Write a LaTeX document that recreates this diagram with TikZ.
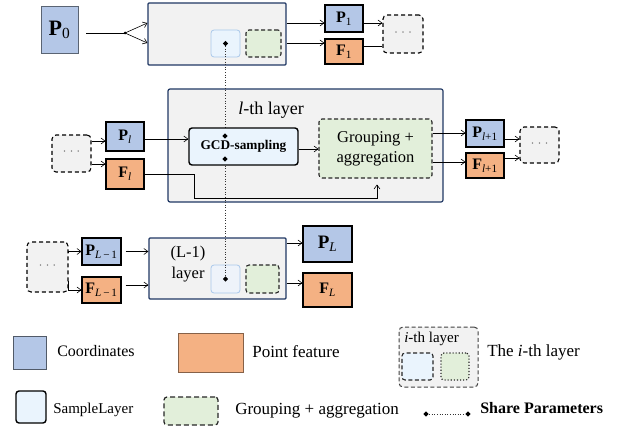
\documentclass[tikz,border=0pt]{standalone}
\usepackage{fontspec}
\setmainfont{Liberation Serif}
\usepackage{tikz}
\usetikzlibrary{arrows.meta,calc,shapes.geometric}

\definecolor{coordblue}{HTML}{B4C7E7}
\definecolor{featorange}{HTML}{F4B183}
\definecolor{layergray}{HTML}{F2F2F2}
\definecolor{layernavy}{HTML}{203864}
\definecolor{samplefill}{HTML}{EAF4FD}
\definecolor{innerfill}{HTML}{EEF3FA}
\definecolor{innerblue}{HTML}{A9C8EA}
\definecolor{groupgreen}{HTML}{E2EFDA}
\newcommand{\vsub}[2]{\textbf{#1}\textsubscript{#2}}

\begin{document}
\begin{tikzpicture}[x=1pt, y=-1pt, >={Straight Barb[length=4pt,width=6pt]}, line width=0.6pt,
  every node/.style={font=\fontsize{16}{19}\selectfont, inner sep=0pt},
  coordbox/.style={draw=black, line width=1.1pt, fill=coordblue, minimum width=38pt, minimum height=27pt},
  featbox/.style={draw=black, line width=1.1pt, fill=featorange, minimum width=38pt, minimum height=27pt},
  layerbox/.style={draw=layernavy, line width=1.2pt, fill=layergray, rounded corners=1pt},
  samplebox/.style={draw=black, line width=1.4pt, fill=samplefill, rounded corners=3pt},
  groupbox/.style={draw=black!85, dash pattern=on 4pt off 2.5pt, line width=1.1pt, fill=groupgreen, rounded corners=3pt},
  morebox/.style={draw=black, dash pattern=on 4pt off 3pt, line width=1.1pt, fill=layergray, rounded corners=4pt,
    minimum width=40pt, minimum height=38pt, font=\fontsize{12}{14}\selectfont, text=black!60},
  sharedot/.style={diamond, fill=black, inner sep=1.4pt},
]
\useasboundingbox (0,0) rectangle (628,433);

% first layer
\node[coordbox, draw=coordblue!50!black, line width=0.8pt, minimum width=37pt, minimum height=47pt,
  font=\fontsize{22}{24}\selectfont] (p0) at (59.5,29.5) {\vsub{P}{0}};
\node[layerbox, minimum width=138pt, minimum height=62pt] (layer1) at (217,34) {};
\node[samplebox, draw=innerblue, line width=0.8pt, minimum width=29pt, minimum height=27pt] (s1) at (225.5,43.5) {};
\node[groupbox, minimum width=35pt, minimum height=27pt] (g1) at (263.5,43.5) {};
\node[coordbox] (p1) at (344,18.5) {\vsub{P}{1}};
\node[featbox, minimum height=25pt] (f1) at (344,51.5) {\vsub{F}{1}};
\node[morebox] (more1) at (403,34) {· · ·};
\coordinate (split) at (125,33);

\draw[shorten <=8pt] (p0.east |- split) -- (split);
\fill (split) circle (1.5pt);
\draw[->] (split) -- ($(layer1.west)+(0,-11)$);
\draw[->] (split) -- ($(layer1.west)+(0,9)$);
\draw[->] ($(layer1.east)+(0,-11)$) coordinate (a) -- (a -| p1.west);
\draw[->] ($(layer1.east)+(0,9)$) coordinate (a) -- (a -| f1.west);
\draw[->] ($(p1.east)+(0,4.5)$) coordinate (a) -- (a -| more1.west);
\draw ($(f1.east)+(0,-5.5)$) coordinate (a) -- (a -| more1.west);

% last layer
\node[morebox, minimum width=41pt, minimum height=50pt] (more4) at (47.5,267) {· · ·};
\node[coordbox, minimum width=39pt] (pL1) at (101.5,251.5) {\vsub{P}{\textit{L}\,−\,1}};
\node[featbox, minimum width=39pt, minimum height=26pt] (fL1) at (101.5,290) {\vsub{F}{\textit{L}\,−\,1}};
\node[layerbox, minimum width=137pt, minimum height=61pt] (layerL) at (217.5,268.5) {};
\node[align=center, font=\fontsize{16.5}{21}\selectfont] (titleL) at (188,264) {(L-1)\\layer};
\node[samplebox, draw=innerblue, fill=innerfill, line width=0.8pt, minimum width=29pt, minimum height=28pt] (sL) at (225.5,279) {};
\node[groupbox, minimum width=33pt, minimum height=28pt] (gL) at (262.5,279) {};
\node[coordbox, minimum width=49pt, minimum height=36pt, font=\fontsize{19}{21}\selectfont] (pL) at (327.5,244) {\vsub{P}{\textit{L}}};
\node[featbox, minimum width=49pt, minimum height=34pt] (fL) at (327.5,290) {\vsub{F}{\textit{L}}};

\draw[->] ($(more4.east)+(0,-14)$) |- (pL1.west);
\draw[->] ($(more4.east)+(0,14)$) |- (fL1.west);
\draw[->, shorten <=4pt] (pL1.east) -- (pL1.east -| layerL.west);
\draw[->, shorten <=4pt] ($(fL1.east)+(0,-5)$) coordinate (a) -- (a -| layerL.west);
\draw[->] ($(layerL.east)+(0,-25.5)$) coordinate (a) -- (a -| pL.west);
\draw[->] ($(layerL.east)+(0,14.5)$) coordinate (a) -- (a -| fL.west);

% l-th layer
\node[morebox, minimum width=39pt, minimum height=37pt] (more2) at (71.5,153.5) {· · ·};
\node[coordbox, minimum height=29pt] (pl) at (125,136.5) {\vsub{P}{\textit{l}}};
\node[featbox, minimum height=30pt] (fl) at (125,174) {\vsub{F}{\textit{l}}};
\node[layerbox, rounded corners=2pt, minimum width=275pt, minimum height=113pt] (layerl) at (305.5,145.5) {};
\node[font=\fontsize{18}{20}\selectfont] (titlel) at (271,110) {\textit{l}-th layer};

% shared weights run through all layers
\draw[dotted, draw=black!80] (s1.center) -- (sL.center);

\node[samplebox, minimum width=109pt, minimum height=37pt, font=\fontsize{13.3}{15}\bfseries] (gcd) at (243.5,146.5) {GCD-sampling};
\node[groupbox, minimum width=113pt, minimum height=59pt, align=center, font=\fontsize{16.5}{20}\selectfont] (grp) at (375.5,148.5) {Grouping +\\ aggregation};
\node[coordbox] (pl1) at (485,133.5) {\vsub{P}{\textit{l}+1}};
\node[featbox, minimum height=25pt] (fl1) at (485,165.5) {\vsub{F}{\textit{l}+1}};
\node[morebox, minimum width=39pt, minimum height=36pt] (more3) at (539.5,145) {· · ·};

\draw[->] ($(more2.east)+(0,-12.5)$) coordinate (a) -- (a -| pl.west);
\draw[->] ($(more2.east)+(0,10.5)$) coordinate (a) -- (a -| fl.west);
\draw[->] ($(pl.east)+(0,2.5)$) coordinate (a) -- (a -| gcd.west);
\draw[->] ($(gcd.east)+(0,2.5)$) coordinate (a) -- (a -| grp.west);
\draw[->] (fl.east) -- ++(50,0) |- ($(grp.south)+(1.5,20)$) -- ($(grp.south)+(1.5,6)$);
\draw[->] ($(grp.east)+(0,-15.5)$) coordinate (a) -- (a -| pl1.west);
\draw[->] ($(grp.east)+(0,13.5)$) coordinate (a) -- (a -| fl1.west);
\draw[->] ($(pl1.east)+(0,5.5)$) coordinate (a) -- (a -| more3.west);
\draw[->] ($(fl1.east)+(0,-7.5)$) coordinate (a) -- (a -| more3.west);

\node[sharedot] (d1) at (s1.center) {};
\node[sharedot] (d2) at ($(gcd.center)+(-18.5,-10.5)$) {};
\node[sharedot] (d3) at ($(gcd.center)+(-18.5,12.5)$) {};
\node[sharedot] (d4) at (sL.center) {};

% legend
\node[coordbox, draw=coordblue!45!black, line width=0.9pt, minimum width=33pt, minimum height=33pt] (keyp) at (29.5,352.5) {};
\node[anchor=west] (keyptext) at (57,351) {Coordinates};
\node[featbox, draw=featorange!55!black, line width=0.9pt, minimum width=65pt, minimum height=39pt] (keyf) at (210.5,352.5) {};
\node[anchor=west, font=\fontsize{17}{20}\selectfont] (keyftext) at (252,352) {Point feature};
\node[layerbox, draw=black!75, dash pattern=on 4pt off 2.5pt, rounded corners=4pt, line width=1pt, minimum width=79pt, minimum height=60pt] (keyl) at (438.5,357) {};
\node[anchor=west, font=\fontsize{15}{17}\selectfont] (keyltitle) at (404,339) {\textit{i}-th layer};
\node[groupbox, fill=samplefill, minimum width=31pt, minimum height=27pt] (keyls) at (417.5,366.5) {};
\node[groupbox, dotted, line width=1.2pt, minimum width=28pt, minimum height=27pt] (keylg) at (455,366.5) {};
\node[anchor=west, font=\fontsize{17}{20}\selectfont] (keyltext) at (487,352) {The \textit{i}-th layer};
\node[samplebox, minimum width=30pt, minimum height=32pt] (keys) at (31,407) {};
\node[anchor=west, font=\fontsize{15}{17}\selectfont] (keystext) at (53,410) {SampleLayer};
\node[groupbox, line width=1.2pt, dash pattern=on 5pt off 3pt, minimum width=54pt, minimum height=28pt] (keyg) at (191,411) {};
\node[anchor=west, font=\fontsize{17}{20}\selectfont] (keygtext) at (235,411) {Grouping + aggregation};
\node[sharedot] (keyd1) at (426,414) {};
\node[sharedot] (keyd2) at (468,414) {};
\draw[dotted, draw=black!80] (keyd1) -- (keyd2);
\node[anchor=west, font=\fontsize{16}{18}\bfseries] (keydtext) at (480,408) {Share Parameters};
\end{tikzpicture}
\end{document}
